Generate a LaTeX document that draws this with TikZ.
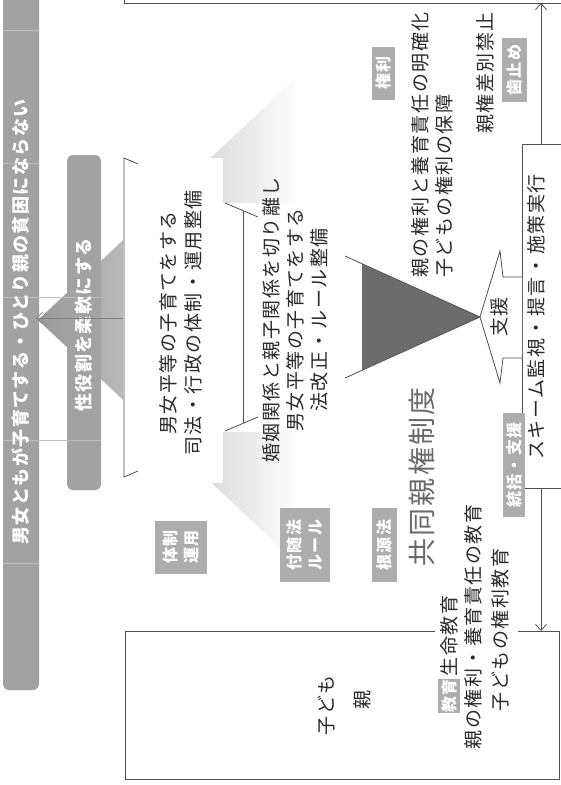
\documentclass[tikz,border=0pt]{standalone}
\usepackage{fontspec}
\setmainfont{Noto Sans CJK JP}
\newfontfamily\jp[LetterSpace=8]{Noto Sans CJK JP}
\usetikzlibrary{arrows.meta}
\definecolor{stripgray}{HTML}{A2A2A2}
\definecolor{labelgray}{HTML}{ADADAD}
\definecolor{linegray}{HTML}{505050}
\definecolor{textgray}{HTML}{2A2A2A}
\definecolor{darktri}{HTML}{6C6C6C}
\definecolor{tri0}{HTML}{989898}
\definecolor{tri1}{HTML}{D2D2D2}
\definecolor{bigtext}{HTML}{6A6A6A}
\definecolor{faint}{HTML}{BDBDBD}
\begin{document}
\begin{tikzpicture}[x=1pt,y=-1pt,
  txt/.style={rotate=90, inner sep=0pt, text=textgray, align=center,
    font=\jp\fontsize{19}{25}\selectfont},
  striptxt/.style={rotate=90, inner sep=0pt, text=white,
    font=\jp\bfseries\fontsize{18}{20}\selectfont},
  lbl/.style={rotate=90, fill=labelgray, text=white, inner sep=0pt, align=center,
    font=\jp\bfseries\fontsize{16}{21}\selectfont},
  frame/.style={draw=linegray, line width=0.8pt},
  tip/.style={-{Straight Barb[length=6pt,width=11pt]}}]
\useasboundingbox (0,0) rectangle (561,785);
\fill[white] (0,0) rectangle (561,785);

% ---- gradient pyramid arrow ----
\shade[left color=tri0, middle color=tri1, right color=white]
  (38,320) -- (300,74) -- (300,566) -- cycle;
% white layers over it
\fill[white] (123,158) rectangle (223,483);
\fill[white] (223,203) rectangle (430,432);

% ---- strips ----
\fill[stripgray, rounded corners=6pt] (3,-20) rectangle (39,690);
\fill[stripgray, rounded corners=6pt] (67,155) rectangle (101,490);
\foreach \yy in {30,163,563} \draw[faint, line width=0.6pt] (3,\yy) -- (39,\yy);
\foreach \yy in {297,440} \draw[faint, line width=0.6pt] (3,\yy) -- (101,\yy);
\node[striptxt] (s1) at (21,322) {男女ともが子育てする・ひとり親の貧困にならない};
\node[striptxt] (s2) at (84,325) {性役割を柔軟にする};

% ---- inverted triangle layers ----
\coordinate (apex) at (480,317);
\coordinate (b1t) at (124,158);
\coordinate (b1b) at (124,477);
\draw[frame] (138,164) -- (b1t) -- (b1b) -- (138,471);
\coordinate (b2t) at (243,211);
\coordinate (b2b) at (243,423);
\draw[frame] (b2t) -- (b2b);
\draw[frame] (225,203) -- (258,217);
\draw[frame] (225,431) -- (258,417);
\fill[darktri] (362,264) -- (apex) -- (362,370) -- cycle;
\draw[frame] (345,256) -- (apex) -- (345,378);

% arrow from layer 1 to top strip
\coordinate (a1s) at (123,318);
\coordinate (a1e) at (36,318);
\draw[tip, draw=gray, line width=0.7pt] (a1s) -- (a1e);

% ---- layer texts ----
\node[txt] (t1) at (181,323) {男女平等の子育てをする\\司法・行政の体制・運用整備};
\node[txt, font=\jp\fontsize{19}{24}\selectfont] (t2) at (295,320)
  {婚姻関係と親子関係を切り離し\\男女平等の子育てをする\\法改正・ルール整備};
\node[txt, align=left, font=\jp\fontsize{19}{24}\selectfont] (t3) at (432,145)
  {親の権利と養育責任の明確化\\子どもの権利の保障};
\node[txt] (t4) at (485,73) {親権差別禁止};
\node[txt, text=bigtext, font=\jp\fontsize{28}{30}\selectfont] (t5) at (422,477) {共同親権制度};

% ---- labels ----
\node[lbl, minimum width=53pt, minimum height=23pt] (L1) at (383,73) {権利};
\node[lbl, minimum width=64pt, minimum height=25pt] (L2) at (514,70) {歯止め};
\node[lbl, minimum width=53pt, minimum height=52pt] (L3) at (181,547) {体制\\運用};
\node[lbl, minimum width=74pt, minimum height=50pt] (L4) at (305,545) {付随法\\ルール};
\node[lbl, minimum width=74pt, minimum height=25pt] (L5) at (384,545) {根源法};

% ---- right box (scheme) ----
\coordinate (rb1) at (522,144);
\coordinate (rb2) at (522,488);
\draw[frame] (561,144) -- (rb1) -- (rb2) -- (561,488);
\node[txt] (t6) at (536,317) {スキーム監視・提言・施策実行};
\node[lbl, minimum width=104pt, minimum height=22pt] (L6) at (514,465) {統括・支援};

% support arrow
\draw[frame, fill=white] (522,277) -- (503,277) -- (500,251) -- (apex) -- (500,383) -- (503,358) -- (522,358);
\node[txt] (t7) at (499,317) {支援};

% ---- top and bottom frames ----
\coordinate (tf) at (124,3);
\draw[frame] (124,0) -- (tf) -- (561,3);
\coordinate (bf1) at (125,631);
\draw[frame] (435,631) -- (bf1) -- (125,779) -- (559,779) -- (559,631) -- (518,631);
\coordinate (up1) at (541,3);
\coordinate (up0) at (541,144);
\coordinate (dn0) at (541,488);
\coordinate (dn1) at (541,631);
\draw[frame, tip] (up0) -- (up1);
\draw[frame, tip] (dn0) -- (dn1);

% ---- bottom box texts ----
\node[txt] (t8) at (327,705) {子ども};
\node[txt] (t9) at (362,700) {親};
\node[lbl, minimum width=32pt, minimum height=22pt] (L7) at (449,696) {教育};
\node[txt] (t10) at (449,636) {生命教育};
\node[txt] (t11) at (473,627) {親の権利・養育責任の教育};
\node[txt] (t12) at (500,630) {子どもの権利教育};
\end{tikzpicture}
\end{document}
